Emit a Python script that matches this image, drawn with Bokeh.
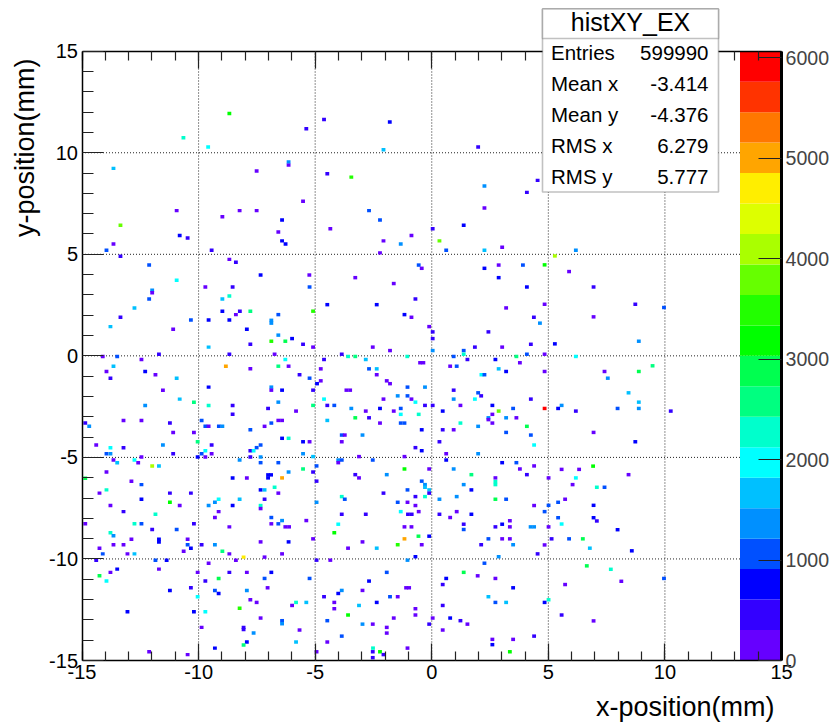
import math
from bokeh.embed import file_html
from bokeh.resources import INLINE
from bokeh.plotting import figure
from bokeh.models import (ColumnDataSource, LinearAxis, FixedTicker, Range1d, Label,
                          BoxAnnotation, LinearColorMapper)

x_ticks = [-15, -10, -5, 0, 5, 10, 15]
x_minor = list(range(-15, 16))
z_ticks = [0, 1000, 2000, 3000, 4000, 5000, 6000]
z_max = 6066
palette = ["#6600ff", "#3300ff", "#0000ff", "#0050ff", "#0090ff", "#00c0ff", "#00ffff", "#00ffcc",
           "#00ff80", "#00ff50", "#00ff00", "#22ff00", "#66ff00", "#aaff00", "#ddff00", "#ffee00",
           "#ffa500", "#ff7700", "#ff3300", "#ff0000"]
stat_names = ["Entries", "Mean x", "Mean y", "RMS x", "RMS y"]
stat_values = ["599990", "-3.414", "-4.376", "6.279", "5.777"]

x1 = [-8.68,-5.38,-10.65,-9.59,-13.65,-6.14,-6.14,-7.51,-5.52,-10.94,-8.98,-8.24,-7.51,-6.42,-13.35,-6.58,-10.81,-10.47,-13.65,-6.42,-6.27,-13.95,-9.44]
y1 = [11.93,11.18,10.74,10.28,9.23,9.54,9.39,9.10,7.61,7.15,6.85,7.15,7.15,6.69,6.43,6.10,5.93,5.80,5.51,5.66,5.51,5.20,5.20]
z1 = [3200,450,2280,1970,1670,1500,300,300,300,150,300,150,150,900,3800,300,800,450,300,900,800,1200,450]

x2 = [-4.62,-1.80,-2.07,1.99,-4.48,-3.45,2.26,4.54,4.08,-2.69,-2.22,2.26,-4.35,-0.87,0.04,1.37,-2.07,-1.33,0.33,0.62,2.26,3.02,-2.22,6.18,5.28,4.84]
y2 = [11.64,11.51,10.15,10.28,8.97,8.80,8.36,8.64,8.05,7.15,6.69,7.28,6.26,5.93,6.26,6.43,5.66,5.51,5.66,5.20,5.20,5.35,5.07,5.20,4.92,4.48]
z2 = [450,800,1600,450,450,3500,1400,450,450,1100,1100,300,150,300,450,900,300,1400,3800,1100,1700,300,300,1300,4100,3300]

x3 = [-13.35,-8.68,-8.40,-12.12,-7.34,-5.25,-10.94,-9.71,-8.54,-5.24,-11.99,-11.99,-12.12,-8.68,-8.98,-12.75,-8.98,-8.23,-7.78,-8.40,
      -6.58,-13.35,-10.33,-9.57,-8.68,-6.88,-6.88,-13.78,-11.09,-7.93,-6.58,-5.99,-6.88,-6.28,-7.78,-5.52,-9.57,-11.70,-8.68,-6.74,
      -14.11,-13.49,-12.45,-6.28,-13.65,-8.83,-6.58,-6.14,-7.78,-13.95,-12.29,-11.85,-5.67,-13.78,-10.94,-5.24,-9.57,-6.88,-6.88,-11.53,
      -6.42,-10.81,-12.29,-10.20,-9.57,-6.58,-8.54,-7.02,-5.82,-8.54,-13.22,-12.45,-9.87,-11.23,-14.86,-14.69,-9.71,-9.57,-9.13,-8.98,
      -7.78,-7.17,-6.88,-6.58,-6.42,-11.09,-10.20,-10.04,-6.42,-6.14,-5.52,-5.24,-14.39,-13.78,-13.22,-11.53,-9.44,-7.34,-7.51,-7.78,
      -7.64,-9.71,-13.95,-13.78,-11.09,-9.87,-9.44,-5.52,-12.45,-10.04,-9.71,-7.78,-7.34]
y3 = [4.90,4.75,4.61,4.47,3.98,3.98,3.72,3.39,3.39,3.39,3.23,3.11,2.80,2.95,2.80,2.36,2.20,2.20,2.20,2.03,
      2.03,1.90,1.77,1.77,1.77,1.75,1.61,1.44,1.31,1.31,1.02,0.85,0.72,0.72,0.57,0.57,0.43,0.08,0.08,0.08,
      -0.03,-0.03,-0.18,-0.18,-0.51,-0.51,-0.51,-0.51,-0.64,-0.77,-0.77,-0.93,-0.93,-1.10,-1.10,-1.10,-1.54,-1.54,-1.69,-1.69,
      -1.69,-2.13,-2.44,-2.28,-2.44,-2.28,-2.44,-2.59,-2.72,-2.88,-3.18,-3.18,-3.18,-3.31,-3.31,-3.47,-3.47,-3.47,-3.47,-3.47,
      -3.64,-3.47,-3.31,-3.18,-3.18,-3.77,-3.77,-4.23,-4.06,-4.06,-4.23,-4.23,-4.39,-4.52,-4.52,-4.39,-4.39,-4.39,-4.52,-4.67,
      -4.67,-4.67,-4.82,-4.82,-4.82,-4.82,-4.82,-4.82,-4.98,-4.98,-4.98,-4.98,-4.98]
z3 = [450,300,400,1000,800,300,1950,300,450,1100,1500,300,1000,2250,1600,1600,800,500,2600,300,
      1000,450,1000,800,800,1300,1500,1700,150,750,1400,800,3500,2900,450,450,1700,450,450,300,
      300,1000,300,2000,1600,5000,2600,300,150,300,800,300,450,450,1600,1100,800,1500,300,300,
      800,1600,1400,2500,2400,1400,450,400,300,400,300,150,1000,450,600,1300,1200,300,1000,1300,
      1000,300,1200,300,300,300,300,2600,800,2300,800,300,300,1900,450,1400,450,1100,1200,450,
      1950,2000,1100,1500,450,1000,300,1400,300,800,300,450,1500]

x4 = [-0.56,-0.43,2.26,2.87,3.91,-3.28,2.87,-1.63,4.08,-0.70,-4.48,-2.36,3.19,-5.09,-1.17,-0.87,4.38,4.64,-0.11,0.04,
      2.43,0.04,4.25,-5.09,-2.53,1.85,3.02,-1.79,0.04,1.37,-3.86,1.37,4.08,-3.59,-3.28,-1.05,0.94,3.63,-4.62,-2.83,
      1.53,2.73,-0.50,-0.36,3.78,0.79,1.07,-4.76,-2.69,-2.36,2.87,3.19,-2.36,2.13,2.26,-4.76,-1.93,-1.79,-4.92,-1.04,
      -0.29,-3.66,-3.50,-5.09,0.94,1.99,2.12,-1.46,-1.04,-2.07,-0.87,-4.62,0.94,1.85,4.25,-0.70,-5.09,-4.48,-4.18,-0.29,
      0.04,1.23,2.60,-3.45,-2.22,-1.33,3.49,-2.83,-1.63,0.47,2.87,-1.33,-0.56,2.60,-4.48,-3.28,-2.69,2.43,3.19,3.63,
      2.43,-2.22,-1.33,-1.17,2.60,1.23,1.99,4.08,-0.43,0.47,0.94,3.19,-3.86,-3.73,-2.97,4.25,-3.86,0.33,4.39,-0.70,
      -0.43,0.62,1.99,-5.09,-3.12,-1.17]
y4 = [4.47,4.31,4.31,4.47,4.47,3.85,3.85,3.56,3.39,2.80,2.52,2.52,2.36,2.20,2.03,1.90,1.90,1.61,1.44,1.18,
      1.18,0.85,0.57,0.43,0.43,0.43,0.43,0.26,0.26,0.26,0.08,0.08,0.08,-0.03,-0.03,-0.03,-0.03,-0.03,-0.18,-0.18,
      -0.18,-0.18,-0.34,-0.34,-0.34,-0.51,-0.51,-0.64,-0.64,-0.64,-0.64,-0.77,-0.93,-0.93,-0.93,-1.23,-1.23,-1.37,-1.37,-1.54,
      -1.54,-1.69,-1.69,-1.69,-1.69,-1.82,-1.97,-1.97,-1.97,-2.13,-2.13,-2.13,-2.13,-2.13,-2.13,-2.28,-2.44,-2.44,-2.44,-2.44,
      -2.44,-2.44,-2.44,-2.59,-2.59,-2.59,-2.59,-2.72,-2.72,-2.72,-2.72,-2.88,-2.88,-2.88,-3.18,-3.05,-3.05,-3.05,-3.05,-3.05,
      -3.14,-3.31,-3.31,-3.31,-3.31,-3.31,-3.47,-3.47,-3.64,-3.64,-3.64,-3.77,-3.90,-3.90,-3.90,-3.90,-4.23,-4.23,-4.39,-4.52,
      -4.67,-4.82,-4.82,-4.96,-4.96,-4.96]
z4 = [1100,300,800,300,1200,300,900,300,900,450,900,900,300,3600,800,150,400,1400,300,450,
      450,450,450,300,300,450,300,300,1300,1100,450,2300,1100,2300,2500,2300,1200,2600,450,1600,
      450,800,300,300,300,300,1100,150,1000,1700,1700,800,300,2000,1100,150,150,300,800,1000,
      1400,300,300,450,400,1100,450,1500,1000,300,300,1900,1400,1900,400,2000,2500,450,1100,450,
      450,300,900,1400,900,1000,1200,300,300,800,3800,1950,2250,300,1700,2900,450,1400,1300,300,
      300,300,1100,1100,300,2300,1300,2900,800,450,300,1000,1000,300,1400,1100,300,400,2000,400,
      800,300,1400,1600,300,300]

x5 = [-13.65,-13.49,-12.75,-12.59,-8.24,-7.34,-6.58,-11.99,-11.70,-5.52,-6.14,-13.95,-14.86,-12.88,-8.54,-7.93,-7.02,-6.89,-7.02,-6.42,
      -12.45,-6.74,-13.95,-7.34,-7.17,-14.25,-11.23,-10.33,-6.58,-12.45,-9.14,-8.24,-7.17,-11.23,-9.30,-13.78,-10.81,-9.57,-8.54,-7.34,
      -7.34,-13.22,-9.14,-11.85,-9.30,-6.88,-6.42,-5.38,-14.86,-12.75,-12.45,-10.20,-6.88,-6.58,-8.68,-6.28,-6.12,-11.99,-10.94,-13.78,
      -13.65,-11.70,-11.70,-12.88,-10.47,-7.34,-6.14,-13.65,-13.22,-10.47,-9.87,-9.30,-10.33,-14.25,-8.98,-10.64,-14.11,-13.05,-12.75,-8.68,
      -6.42,-8.07,-7.17,-14.39,-11.85,-11.37,-8.40,-9.57,-13.49,-13.78,-11.70,-10.04,-8.68,-7.93,-6.88,-14.25,-9.14,-7.17,-5.24,-13.95,
      -9.71,-10.33,-7.04,-11.23,-9.30,-7.93,-9.14,-10.04,-7.78,-7.51,-5.82,-5.38,-5.99,-8.24,-13.05,-10.20,-9.71,-7.34,-6.42,-6.42,
      -9.87,-8.07,-8.07,-5.67,-7.64,-7.93,-5.82,-8.07,-9.30,-12.12,-10.47]
y5 = [-5.13,-5.26,-5.13,-5.26,-5.13,-5.26,-5.26,-5.42,-5.42,-5.57,-5.72,-5.72,-6.03,-6.17,-6.01,-6.01,-5.86,-5.86,-6.01,-6.01,
      -6.34,-6.47,-6.60,-6.60,-6.60,-6.76,-6.76,-6.76,-6.76,-7.06,-7.06,-7.06,-7.06,-7.21,-7.21,-7.37,-7.37,-7.37,-7.37,-7.37,
      -7.52,-7.67,-7.67,-7.80,-7.96,-7.96,-8.11,-8.11,-8.27,-8.27,-8.27,-8.27,-8.27,-8.27,-8.42,-8.42,-8.42,-8.55,-8.55,-8.71,
      -8.86,-9.03,-9.17,-9.03,-9.03,-9.16,-9.16,-9.30,-9.30,-9.30,-9.30,-9.30,-9.47,-9.47,-9.62,-9.62,-9.75,-9.75,-9.75,-9.75,
      -9.75,-9.91,-9.91,-10.06,-10.06,-10.06,-10.06,-10.21,-10.50,-10.66,-10.50,-10.66,-10.66,-10.66,-10.66,-10.83,-10.96,-10.96,-10.96,-11.09,
      -11.09,-11.42,-11.42,-11.55,-11.55,-11.55,-11.70,-11.86,-12.01,-12.14,-12.14,-12.14,-12.29,-12.43,-12.60,-12.60,-12.60,-12.91,-13.04,-13.19,
      -13.37,-13.37,-13.48,-13.50,-13.65,-14.09,-14.09,-14.24,-14.39,-14.57,-14.71]
z5 = [300,1700,1900,300,1500,1100,1000,4100,1600,2500,1400,300,2800,300,800,300,800,800,800,5000,
      1000,2300,2200,800,1700,300,450,450,300,900,1900,1600,400,3300,1300,300,300,1300,800,2300,
      300,400,150,2250,300,1100,1500,300,300,2200,1100,450,300,1100,150,300,300,400,1100,2200,
      1300,800,800,150,150,300,900,300,300,1100,450,1400,800,300,2500,150,1100,300,1600,300,
      300,4700,300,450,1000,900,300,150,800,300,300,300,450,300,900,2800,3000,1000,1000,2000,
      450,450,300,800,1000,1400,800,2100,300,150,2200,1700,300,3600,800,800,1900,150,1100,1500,
      300,450,450,150,1400,750,1600,2600,900,300,300]

x6 = [-4.01,-3.86,-2.53,0.62,-4.01,3.02,3.63,-4.94,-1.17,-0.11,0.94,3.78,4.39,-5.09,-3.28,-1.93,1.70,4.08,-3.12,2.73,
      -4.94,-0.43,2.73,2.73,-0.29,-0.29,1.37,-1.04,-0.11,1.70,-2.07,-0.11,-0.70,-0.29,-3.86,1.07,-3.73,0.33,2.73,3.19,
      -4.94,-1.46,-1.04,-0.70,4.39,-1.33,-0.56,1.07,-3.86,-2.83,-1.02,-0.86,0.33,1.70,0.79,3.35,-4.01,1.37,3.02,-1.17,
      -0.87,2.73,3.35,4.24,4.39,1.37,-4.18,-0.57,-0.11,-1.17,-5.09,2.43,3.02,3.35,-2.97,-1.46,-0.43,2.12,3.49,-3.59,
      -2.36,4.54,-0.70,2.87,-4.94,-4.35,-1.04,2.26,-1.93,1.37,1.97,2.73,0.62,-2.69,0.47,-1.10,-0.97,3.49,-3.86,-2.97,
      -4.01,-4.62,-1.79,-1.46,2.43,-4.18,-2.36,2.73,3.19,-3.12,0.47,-4.18,-0.70,-3.59,-0.70,-1.63,0.04,0.79,-4.48,1.23,
      -2.97,-2.53,-0.11,1.53,-1.93,0.47,-1.93,-3.86,4.39,2.60,3.49,-4.48,2.60,-2.52,-1.04,-4.94,-2.53,-2.22,3.35,-2.07,
      -2.53]
y6 = [-5.13,-5.13,-5.13,-5.13,-5.26,-5.26,-5.26,-5.42,-5.57,-5.57,-5.57,-5.57,-5.42,-5.72,-5.85,-5.85,-5.85,-5.85,-6.01,-6.01,
      -6.17,-6.17,-6.19,-6.34,-6.34,-6.47,-6.34,-6.60,-6.60,-6.60,-6.76,-6.76,-6.93,-6.93,-6.93,-6.93,-7.06,-7.06,-7.06,-7.06,
      -7.21,-7.21,-7.21,-7.37,-7.37,-7.67,-7.67,-7.67,-7.80,-7.80,-7.80,-7.80,-7.80,-7.80,-7.96,-8.12,-8.29,-8.29,-8.29,-8.42,
      -8.42,-8.42,-8.42,-8.42,-8.42,-8.55,-8.71,-8.88,-8.88,-9.01,-9.01,-9.01,-9.01,-9.01,-9.16,-9.30,-9.30,-9.30,-9.30,-9.47,
      -9.47,-9.75,-9.89,-9.89,-10.06,-10.06,-10.06,-10.21,-10.66,-10.66,-10.83,-10.96,-10.96,-11.09,-11.26,-11.42,-11.42,-11.42,-11.55,-11.55,
      -11.70,-11.86,-11.86,-11.86,-11.86,-12.14,-12.14,-12.14,-12.14,-12.29,-12.29,-12.45,-12.45,-12.76,-12.76,-12.91,-12.91,-12.91,-13.04,-13.04,
      -13.21,-13.21,-13.21,-13.21,-13.37,-13.50,-13.65,-13.80,-13.80,-13.96,-13.96,-14.09,-14.22,-14.39,-14.39,-14.57,-14.57,-14.57,-14.57,-14.71,
      -14.86]
z6 = [1400,1100,1100,800,300,800,1000,1100,3300,300,1400,300,300,400,450,1400,2500,450,300,300,
      450,1100,2200,2250,1500,1600,1400,1000,1700,800,400,450,450,2250,2250,1500,1000,1400,2900,1000,
      1500,1000,300,300,300,1950,150,150,450,450,450,450,450,900,300,300,2000,450,700,150,
      150,400,150,1400,1400,1100,3300,2800,900,5000,150,1100,150,150,300,3400,300,450,1300,300,
      1600,400,800,1400,400,300,1500,1100,1100,2900,300,150,900,900,400,300,300,900,1400,150,
      800,400,1000,300,1600,150,900,1100,1700,1600,400,300,300,3200,300,150,150,900,1100,400,
      1400,300,450,300,300,150,300,1000,450,300,300,150,900,2200,300,300,450,3200,3200,500,
      400]

x7 = [5.89,6.94,4.84,8.73,9.96,6.94,8.88,5.28,4.84,6.18,9.47,4.84,7.41,8.88,7.55,8.44,8.88,5.57,4.84,5.42,
      7.97,8.88,6.18,10.25,6.94,8.73,6.92,5.57,6.32,8.44,5.01,6.18,6.04,7.08,7.41,5.72,5.42,5.01,6.94,4.84,
      5.42,6.94,7.08,5.57,5.01,7.97,5.14,5.89,6.48,4.84,6.78,8.58,6.65,7.68,9.96,8.13,5.72,5.01,4.84,5.57,
      6.94]
y7 = [4.15,3.39,2.54,2.54,2.38,1.92,0.72,0.59,0.08,-0.03,-0.49,-0.77,-0.77,-0.77,-1.10,-1.82,-2.28,-2.44,-2.59,-2.59,
      -2.59,-2.59,-2.72,-2.72,-3.77,-4.23,-5.43,-5.59,-5.59,-5.85,-6.01,-6.01,-6.34,-6.47,-6.47,-7.06,-7.21,-7.36,-7.36,-7.67,
      -7.97,-7.97,-8.13,-8.28,-8.42,-8.56,-9.01,-9.01,-9.01,-9.31,-9.47,-9.60,-10.34,-10.51,-10.96,-11.10,-11.26,-12.01,-12.14,-12.76,
      -13.05]
z7 = [300,450,300,400,1000,150,1400,800,300,2100,2500,300,300,3000,1400,1700,1600,1400,5900,800,
      1100,1400,450,450,300,800,3200,300,300,300,300,2000,300,2400,1000,300,1100,1000,800,1000,
      1100,900,400,2000,300,900,400,1000,2900,300,1600,900,2900,2200,1000,300,300,2300,800,400,
      300]

cell_x = x1 + x2 + x3 + x4 + x5 + x6 + x7
cell_y = y1 + y2 + y3 + y4 + y5 + y6 + y7
cell_z = z1 + z2 + z3 + z4 + z5 + z6 + z7
for a, b, c in [(x1,y1,z1),(x2,y2,z2),(x3,y3,z3),(x4,y4,z4),(x5,y5,z5),(x6,y6,z6),(x7,y7,z7)]:
    if not (len(a) == len(b) == len(c)):
        raise ValueError(f"{len(a)} {len(b)} {len(c)}")

FONT = "Liberation Sans"
W, H = 832, 724
LEFT, RIGHT, TOP, BOTTOM = 81.5, 781, 50.7, 660
# The frame fills the whole canvas so the axis titles and stats box are not clipped;
# the ranges are extended so that -15..15 still falls on the plot's box.
sx = (RIGHT - LEFT) / 30
sy = (BOTTOM - TOP) / 30
sz = z_max / (BOTTOM - TOP)
p = figure(width=W, height=H, output_backend="svg", toolbar_location=None,
           x_range=Range1d(-15 - LEFT / sx, 15 + (W - RIGHT) / sx),
           y_range=Range1d(-15 - (H - BOTTOM) / sy, 15 + TOP / sy),
           x_axis_location=None, y_axis_location=None,
           min_border_left=0, min_border_right=0, min_border_top=0, min_border_bottom=0)
p.outline_line_color = None
p.background_fill_color = "white"
p.extra_y_ranges = {"pal": Range1d(-(H - BOTTOM) * sz, z_max + TOP * sz)}
p.grid.visible = False

xt = FixedTicker(ticks=x_ticks, minor_ticks=x_minor)

def make_axis(length, minor, loc, labels=True):
    ax = LinearAxis(ticker=xt, fixed_location=loc, bounds=(-15, 15),
                    major_label_overrides={v: (str(v) if labels else "") for v in x_ticks},
                    major_tick_in=length, major_tick_out=0, minor_tick_in=minor, minor_tick_out=0,
                    axis_line_color="black", axis_line_width=1.5,
                    major_tick_line_color="#222222", minor_tick_line_color="#222222",
                    major_tick_line_width=1.2, minor_tick_line_width=1.2,
                    major_label_text_font=FONT, major_label_text_font_size="20px",
                    major_label_text_color="black", major_label_standoff=4)
    return ax

p.add_layout(make_axis(17, 9, -15), "below")
p.add_layout(make_axis(21, 11, -15), "left")
p.add_layout(make_axis(17, 9, 15, labels=False), "above")

# dotted grid, under the cells
inner = x_ticks[1:-1]
p.segment(x0=inner, x1=inner, y0=[-15] * len(inner), y1=[15] * len(inner),
          line_color="#222222", line_dash="1 2", line_width=1, level="underlay")
p.segment(x0=[-15] * len(inner), x1=[15] * len(inner), y0=inner, y1=inner,
          line_color="#222222", line_dash="1 2", line_width=1, level="underlay")

mapper = LinearColorMapper(palette=palette, low=0, high=z_max)
src = ColumnDataSource(dict(x=cell_x, y=cell_y, z=cell_z))
p.rect("x", "y", width=0.165, height=0.17, source=src,
       fill_color={"field": "z", "transform": mapper}, line_color=None)

n = len(palette)
edges = [z_max * i / n for i in range(n + 1)]
p.quad(left=13.22, right=15, bottom=edges[:-1], top=edges[1:], fill_color=palette, line_color=None,
       y_range_name="pal", level="guide")

zax = LinearAxis(y_range_name="pal", fixed_location=15, bounds=(0, z_max), ticker=FixedTicker(ticks=z_ticks),
                 major_label_overrides={v: str(v) for v in z_ticks},
                 major_tick_in=23, major_tick_out=0, minor_tick_in=0, minor_tick_out=0,
                 axis_line_color="black", axis_line_width=3, major_tick_line_color="#222222", major_tick_line_width=1.2,
                 major_label_text_font=FONT, major_label_text_font_size="19.6px", major_label_standoff=4, level="overlay")
p.add_layout(zax, "right")

for top, bottom in ((8.5, 191.5), (8.5, 38)):
    p.add_layout(BoxAnnotation(left=542, right=718, top=top, bottom=bottom,
                               left_units="canvas", right_units="canvas", top_units="canvas", bottom_units="canvas",
                               fill_color="white", fill_alpha=1, line_color="#333333", line_width=1.6, level="overlay"))

def text(x, y, s, size, align="left", baseline="middle", angle=0):
    p.add_layout(Label(x=x, y=y, x_units="canvas", y_units="canvas", text=s, text_font=FONT,
                       text_font_size=f"{size}px", text_align=align, text_baseline=baseline,
                       text_color="black", angle=angle, level="overlay"))

text(630, 21.5, "histXY_EX", 25, align="center")
for name, val, yy in zip(stat_names, stat_values, [52, 83, 114, 145, 176]):
    text(550.5, yy, name, 20.5)
    text(708, yy, val, 20.5, align="right")

text(774, 706, "x-position(mm)", 27, align="right", baseline="alphabetic")
text(24, 58, "y-position(mm)", 27, align="right", baseline="alphabetic", angle=math.pi / 2)

open("out.html", "w").write(file_html(p, INLINE))
